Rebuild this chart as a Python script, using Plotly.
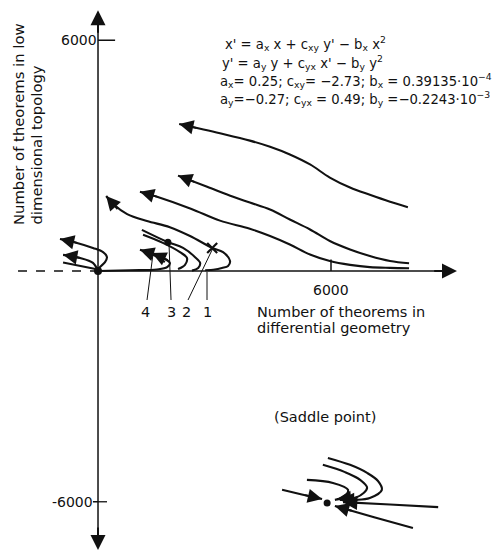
import math
import plotly.graph_objects as go

# ---------------- axis frame (data units) ----------------
# the page body adds an 8 px margin, so the plot area covers screen pixels 8..504 x 8..552
X_RANGE = [-2318, 10455]
Y_RANGE = [-7306, 6838]
X_AXIS_LEFT = -2060
X_AXIS_TIP = 9244
Y_AXIS_TOP = 6780
Y_AXIS_BOTTOM = -7254
TICK_VALUE = 6000

# ---------------- trajectories (direction of motion; last point = arrow tip) ----------------
traj_a_x = [7980, 7520, 7000, 6490, 5970, 5460, 4940, 4430, 3910, 3140, 2090]
traj_a_y = [1660, 1800, 1980, 2170, 2430, 2770, 3030, 3230, 3390, 3580, 3820]

traj_b_x = [8010, 7520, 7000, 6490, 5970, 5460, 4940, 4430, 3910, 3480, 2810, 2060]
traj_b_y = [200, 260, 390, 560, 780, 1080, 1340, 1600, 1780, 1930, 2190, 2480]

traj_c_x = [8010, 7520, 7000, 6490, 5970, 5460, 4940, 4430, 3910, 3140, 2390, 1520, 1080]
traj_c_y = [70, 80, 100, 160, 260, 430, 690, 910, 1100, 1310, 1620, 1930, 2060]

traj_1_x = [2760, 3010, 3190, 3350, 3400, 3220, 2940, 2370, 1850, 1260, 750, 390, 210]
traj_1_y = [20, 40, 80, 130, 260, 490, 600, 910, 1140, 1300, 1480, 1740, 1950]

traj_2_x = [1130, 1800, 2190, 2500, 2630, 2580, 2420]
traj_2_y = [1070, 750, 600, 360, 210, 80, 10]

traj_3_x = [1160, 1670, 2110, 2290, 2240, 2060]
traj_3_y = [940, 730, 490, 340, 160, 50]

traj_4_x = [0, 820, 1520, 1780, 1850, 1670, 1390]
traj_4_y = [0, 20, 40, 100, 210, 340, 470]

traj_4b_x = [1720, 1500, 1290, 1080]
traj_4b_y = [230, 380, 480, 550]

traj_o1_x = [0, 50, 180, 230, 130, -130, -540, -980]
traj_o1_y = [0, 100, 230, 360, 490, 600, 730, 830]

traj_o2_x = [0, -130, -460, -900]
traj_o2_y = [0, 210, 340, 420]

traj_o3_x = [0, -450, -900]
traj_o3_y = [40, 130, 220]

# saddle point neighbourhood
saddle_x = [5900]
saddle_y = [-6030]

sad_left_x = [4740, 5250, 5770]
sad_left_y = [-5690, -5810, -5930]
sad_lowright_x = [8110, 7110, 6100]
sad_lowright_y = [-6680, -6400, -6110]
sad_right_x = [8760, 7520, 6310]
sad_right_y = [-6140, -6070, -6010]
sad_hook_a_x = [5920, 6490, 6930, 7210, 7310, 7000, 6620, 6230]
sad_hook_a_y = [-4860, -5040, -5250, -5460, -5690, -5900, -5950, -5950]
sad_hook_b_x = [5790, 6360, 6750, 6930, 6670, 6150]
sad_hook_b_y = [-5040, -5230, -5430, -5640, -5880, -5930]
sad_hook_c_x = [5380, 6050, 6440, 6310, 6100]
sad_hook_c_y = [-5430, -5510, -5690, -5880, -5950]

# markers
cross_x, cross_y = [2940], [600]
dot_x, dot_y = [1800], [750]
origin_x, origin_y = [0], [0]

# trajectory labels
label_text = ["4", "3", "2", "1"]
label_x = [1210, 1880, 2290, 2810]
label_y = -1066
leader_base_x = [1262, 1880, 2318, 2807]
leader_base_y = -754
leader_top_x = [1416, 1828, 2961, 2807]
leader_top_y = [442, 728, 598, -26]

curves = [
    (traj_a_x, traj_a_y, True),
    (traj_b_x, traj_b_y, True),
    (traj_c_x, traj_c_y, True),
    (traj_1_x, traj_1_y, True),
    (traj_2_x, traj_2_y, False),
    (traj_3_x, traj_3_y, False),
    (traj_4_x, traj_4_y, True),
    (traj_4b_x, traj_4b_y, True),
    (traj_o1_x, traj_o1_y, True),
    (traj_o2_x, traj_o2_y, True),
    (traj_o3_x, traj_o3_y, False),
    (sad_left_x, sad_left_y, True),
    (sad_lowright_x, sad_lowright_y, True),
    (sad_right_x, sad_right_y, True),
    (sad_hook_a_x, sad_hook_a_y, True),
    (sad_hook_b_x, sad_hook_b_y, True),
    (sad_hook_c_x, sad_hook_c_y, False),
]

FONT = "DejaVu Sans"
INK = "#111111"
PLOT_W, PLOT_H = 496, 544
UX = (X_RANGE[1] - X_RANGE[0]) / PLOT_W   # data units per pixel
UY = (Y_RANGE[1] - Y_RANGE[0]) / PLOT_H
ARROW_TAIL_PX = 18

fig = go.Figure()
annotations = []
shapes = []

for xs, ys, arrow in curves:
    fig.add_trace(go.Scatter(x=xs, y=ys, mode="lines",
                             line=dict(color=INK, width=2.1, shape="spline", smoothing=1.0),
                             hoverinfo="skip", showlegend=False))
    if arrow:
        tx, ty = xs[-1], ys[-1]
        dx, dy = xs[-2] - tx, ys[-2] - ty
        dpx = math.hypot(dx / UX, dy / UY)
        k = ARROW_TAIL_PX / dpx
        annotations.append(dict(x=tx, y=ty, ax=tx + k * dx, ay=ty + k * dy,
                                xref="x", yref="y", axref="x", ayref="y", text="",
                                font=dict(size=1), borderpad=0,
                                showarrow=True, arrowhead=2, arrowsize=1.5, arrowwidth=1.9,
                                arrowcolor=INK, standoff=0, startstandoff=0))

# markers
fig.add_trace(go.Scatter(x=cross_x, y=cross_y, mode="markers",
                         marker=dict(symbol="x-thin", size=10, line=dict(color=INK, width=2.2)),
                         hoverinfo="skip", showlegend=False))
fig.add_trace(go.Scatter(x=dot_x + saddle_x, y=dot_y + saddle_y, mode="markers",
                         marker=dict(symbol="circle", size=7, color=INK),
                         hoverinfo="skip", showlegend=False))
fig.add_trace(go.Scatter(x=origin_x, y=origin_y, mode="markers",
                         marker=dict(symbol="circle", size=8, color=INK),
                         hoverinfo="skip", showlegend=False))

# ---------------- axes drawn as arrows ----------------
axis_line = dict(color=INK, width=1.5)
shapes.append(dict(type="line", xref="x", yref="y", x0=X_AXIS_LEFT, y0=0, x1=0, y1=0,
                   line=dict(color=INK, width=1.3, dash="dash")))
shapes.append(dict(type="line", xref="x", yref="y", x0=0, y0=0, x1=X_AXIS_TIP - 300, y1=0,
                   line=axis_line))
shapes.append(dict(type="line", xref="x", yref="y", x0=0, y0=Y_AXIS_BOTTOM + 300, x1=0,
                   y1=Y_AXIS_TOP - 300, line=axis_line))
for tip, base in [((X_AXIS_TIP, 0), (X_AXIS_TIP - 600, 0)),
                  ((0, Y_AXIS_TOP), (0, Y_AXIS_TOP - 600)),
                  ((0, Y_AXIS_BOTTOM), (0, Y_AXIS_BOTTOM + 600))]:
    annotations.append(dict(x=tip[0], y=tip[1], ax=base[0], ay=base[1],
                            xref="x", yref="y", axref="x", ayref="y", text="",
                            font=dict(size=1), borderpad=0,
                            showarrow=True, arrowhead=2, arrowsize=1.5, arrowwidth=2,
                            arrowcolor=INK, standoff=0))

# ticks
shapes.append(dict(type="line", xref="x", yref="y", x0=0, y0=TICK_VALUE, x1=440, y1=TICK_VALUE,
                   line=axis_line))
shapes.append(dict(type="line", xref="x", yref="y", x0=-130, y0=-TICK_VALUE, x1=0, y1=-TICK_VALUE,
                   line=axis_line))
shapes.append(dict(type="line", xref="x", yref="y", x0=0, y0=-TICK_VALUE, x1=400, y1=-TICK_VALUE,
                   line=dict(color=INK, width=1.3, dash="dash")))
shapes.append(dict(type="line", xref="x", yref="y", x0=TICK_VALUE, y0=0, x1=TICK_VALUE, y1=300,
                   line=axis_line))

# leader lines for trajectory labels
for bx, tx, ty in zip(leader_base_x, leader_top_x, leader_top_y):
    shapes.append(dict(type="line", xref="x", yref="y", x0=bx, y0=leader_base_y, x1=tx, y1=ty,
                       line=dict(color=INK, width=1)))

fs = 14.5


def txt(x, y, s, xa="left", ya="middle", angle=0, size=fs):
    annotations.append(dict(x=x, y=y, xref="x", yref="y", text=s, showarrow=False,
                            xanchor=xa, yanchor=ya, textangle=angle,
                            font=dict(family=FONT, size=size, color=INK)))


# tick labels
txt(20, TICK_VALUE, f"{TICK_VALUE}", xa="right", size=14)
txt(-90, -TICK_VALUE, f"-{TICK_VALUE}", xa="right", size=14)
txt(TICK_VALUE, -494, f"{TICK_VALUE}", xa="center", size=14)

# axis titles
txt(4043, -1066, "Number of theorems in")
txt(4043, -1482, "differential geometry")
txt(-2060, 1144, "Number of theorems in low", xa="center", ya="bottom", angle=-90, size=14.8)
txt(-1596, 1144, "dimensional topology", xa="center", ya="bottom", angle=-90, size=14.8)

# equations
eq_size = 13.2
txt(3219, 5928, "x' = a<sub>x</sub> x + c<sub>xy</sub> y' − b<sub>x</sub> x<sup>2</sup>", size=eq_size)
txt(3142, 5434, "y' = a<sub>y</sub> y + c<sub>yx</sub> x' − b<sub>y</sub> y<sup>2</sup>", size=eq_size)
txt(3090, 4966, "a<sub>x</sub>= 0.25; c<sub>xy</sub>= −2.73; b<sub>x</sub> = 0.39135·10<sup>−4</sup>",
    size=eq_size)
txt(3090, 4498, "a<sub>y</sub>=−0.27; c<sub>yx</sub> = 0.49; b<sub>y</sub> =−0.2243·10<sup>−3</sup>",
    size=eq_size)

txt(4480, -3796, "(Saddle point)")

for t, lx in zip(label_text, label_x):
    txt(lx, label_y, t, xa="center")

fig.update_layout(
    width=PLOT_W, height=PLOT_H,
    margin=dict(l=0, r=0, t=0, b=0),
    paper_bgcolor="white", plot_bgcolor="white",
    xaxis=dict(range=X_RANGE, visible=False, fixedrange=True),
    yaxis=dict(range=Y_RANGE, visible=False, fixedrange=True),
    shapes=shapes,
    annotations=annotations,
    showlegend=False,
)

fig.write_html("out.html")
